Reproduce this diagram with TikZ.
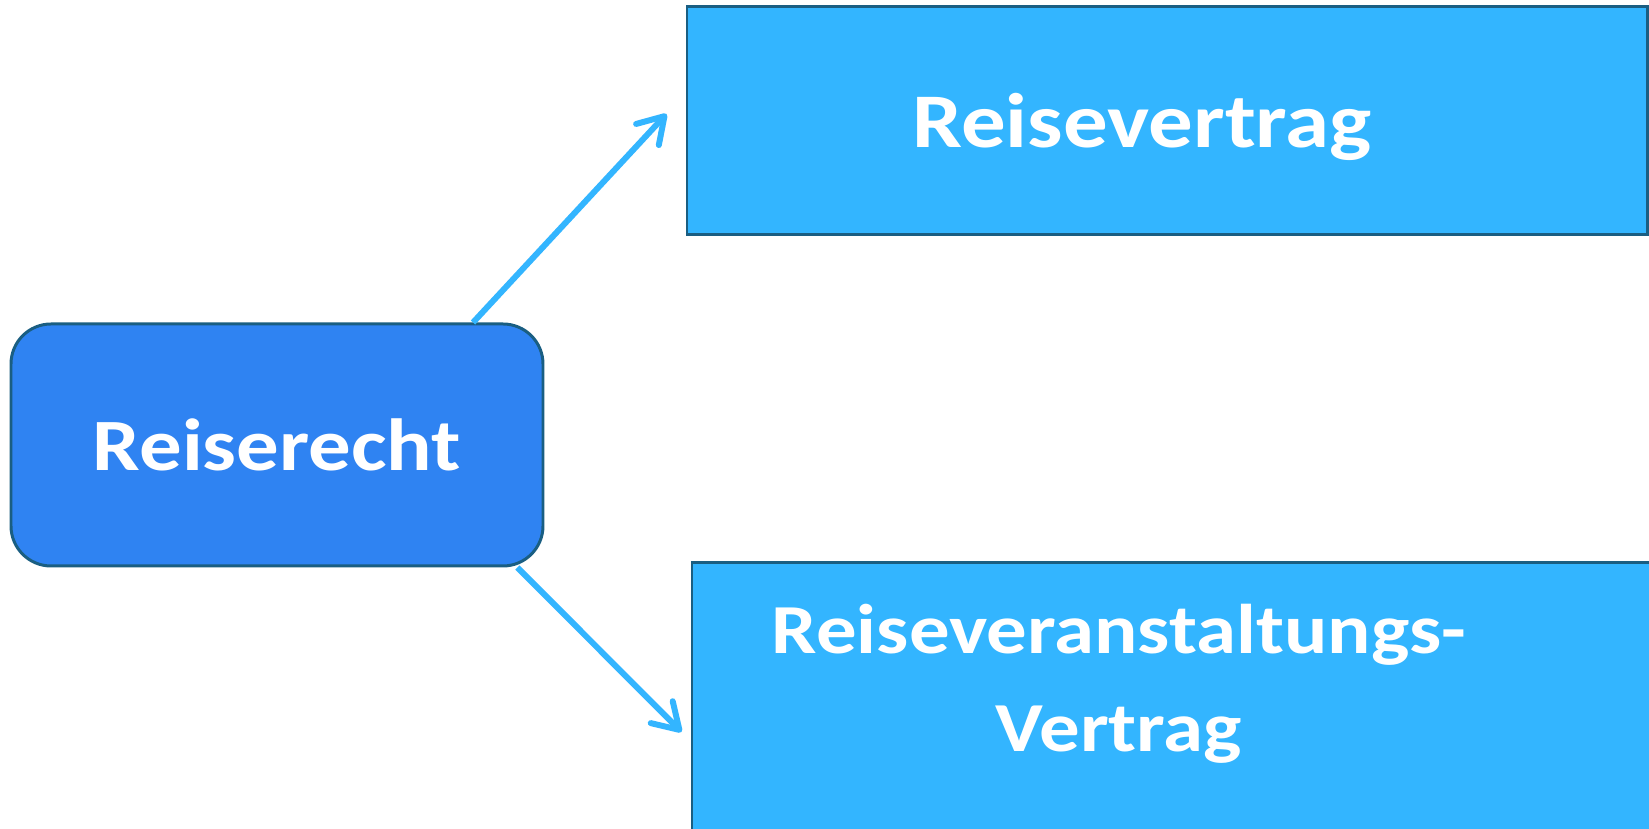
\documentclass[tikz,border=0pt]{standalone}
\usepackage{fontspec}
\setmainfont{Carlito}
\newfontfamily\rrfont[FakeStretch=1.15]{Carlito}
\usepackage{tikz}
\usetikzlibrary{arrows.meta,positioning}
\definecolor{rrblue}{RGB}{47,131,242}
\definecolor{rrsky}{RGB}{51,181,255}
\definecolor{rredge}{RGB}{26,94,130}
\tikzstyle{arrow} = [line width=3.4pt,-{Straight Barb[round,length=0.5cm,width=0.62cm]},color=rrsky]
\tikzstyle{rootbox} = [rectangle, rounded corners=0.8cm, draw=rredge, fill=rrblue, line width=1.7pt, text=white]
\tikzstyle{subbox} = [rectangle, draw=rredge, fill=rrsky, line width=1.7pt]
\tikzstyle{boxtext} = [text=white, align=center, inner sep=0pt]

\begin{document}
\begin{tikzpicture}
\clip (0,0) rectangle (32.98,16.58);
\fill[white] (0,0) rectangle (32.98,16.58);
% root
\node[rootbox, boxtext, font=\rrfont\fontsize{42}{56}\selectfont\bfseries, minimum width=10.64cm, minimum height=4.84cm] (rr) at (5.54,7.68) {Reiserecht};

% the two contracts
\node[subbox, minimum width=19.2cm, minimum height=4.56cm] (rv) at (23.34,14.16) {};
\node[boxtext, font=\rrfont\fontsize{44}{56}\selectfont\bfseries, anchor=base] (rvtext) at (22.84,13.62) {Reisevertrag};

\node[subbox, minimum width=20.16cm, minimum height=6.76cm] (vv) at (23.92,1.94) {};
\node[boxtext, font=\rrfont\fontsize{40}{56}\selectfont\bfseries] (vvtext) at (22.38,2.90) {Reiseveranstaltungs-\\Vertrag};

% arrows
\draw[arrow] (rr.32) -- ([xshift=-0.38cm,yshift=0.14cm]rv.west);
\draw[arrow] (rr.-27) -- ([xshift=-0.18cm]vv.west);
\end{tikzpicture}
\end{document}
